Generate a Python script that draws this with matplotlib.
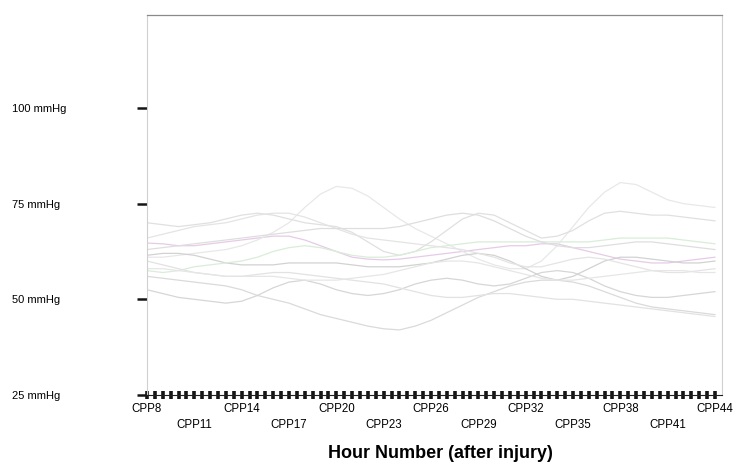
import matplotlib
matplotlib.use("Agg")
import matplotlib.pyplot as plt
import numpy as np

plt.rcParams['font.family'] = ['Liberation Sans', 'DejaVu Sans']

hours = list(range(8, 45))
tick_hours = list(range(8, 45, 3))
tick_labels = ["CPP%d" % h for h in tick_hours]
y_ticks = [25, 50, 75, 100]
y_labels = ["25 mmHg", "50 mmHg", "75 mmHg", "100 mmHg"]

s1 = [64.7, 64.5, 64, 64, 64.5, 65, 65.5, 66, 66.5, 66.5, 65.5, 64, 62.5, 61, 60.5, 60.3, 60.5, 61, 61.5,
      62, 62.5, 63, 63.5, 64, 64, 64.5, 64.5, 63.5, 62.5, 61.5, 60.5, 60, 59.5, 59.5, 60, 60.5, 61]
s2 = [61, 61, 61.5, 62, 62.5, 63, 64, 65.5, 67.5, 70, 74, 77.5, 79.5, 79, 77, 74, 71, 68.5, 66.5,
      64.5, 62.5, 60.5, 59, 58, 58, 60, 64, 69, 74, 78, 80.5, 80, 78, 76, 75, 74.5, 74]
s3 = [70, 69.5, 69, 69.5, 70, 71, 72, 72.5, 72, 71, 70, 69.5, 69, 67.5, 65, 62.5, 61.5, 62.5, 65,
      68, 71, 72.5, 72, 70, 68, 66, 66.5, 68, 70.5, 72.5, 73, 72.5, 72, 72, 71.5, 71, 70.5]
s4 = [56, 55.5, 55, 54.5, 54, 53.5, 52.5, 51, 50, 49, 47.5, 46, 45, 44, 43, 42.3, 42, 43, 44.5,
      46.5, 48.5, 50.5, 52, 53.5, 54.5, 55, 55, 54.5, 53.5, 52, 50.5, 49, 48, 47.5, 47, 46.5, 46]
s5 = [52.5, 51.5, 50.5, 50, 49.5, 49, 49.5, 51, 53, 54.5, 55, 54, 52.5, 51.5, 51, 51.5, 52.5, 54, 55,
      55.5, 55, 54, 53.5, 54, 55.5, 57, 57.5, 57, 55.5, 53.5, 52, 51, 50.5, 50.5, 51, 51.5, 52]
s6 = [61.5, 62, 62, 61.5, 60.5, 59.5, 59, 59, 59, 59.5, 59.5, 59.5, 59.5, 59, 58.5, 58.5, 58.5, 59, 59.5,
      60.5, 61.5, 62, 61.5, 60, 58, 56, 55, 56, 58, 60, 61, 61, 60.5, 60, 59.5, 59.5, 60]
s7 = [57.5, 57, 57.5, 58.5, 59, 59.5, 60, 61, 62.5, 63.5, 64, 63.5, 62.5, 61.5, 61, 61, 61.5, 62.5, 63.5,
      64, 64.5, 65, 65, 65, 65, 65, 65, 65, 65, 65.5, 66, 66, 66, 66, 65.5, 65, 64.5]
s8 = [66, 67, 68, 69, 69.5, 70, 71, 72, 72.5, 72.5, 71.5, 70, 68.5, 67, 66, 65.5, 65, 64.5, 64,
      63.5, 63, 62, 61, 59.5, 58.5, 58.5, 59.5, 60.5, 61, 60.5, 59.5, 58.5, 57.5, 57, 57, 57.5, 58]
s9 = [63, 63.5, 64, 64.5, 65, 65.5, 66, 66.5, 67, 67.5, 68, 68.5, 68.5, 68.5, 68.5, 68.5, 69, 70, 71,
      72, 72.5, 72, 70.5, 68.5, 66.5, 65, 64, 63.5, 63.5, 64, 64.5, 65, 65, 64.5, 64, 63.5, 63]
s10 = [60, 59, 58, 57, 56.5, 56, 56, 56.5, 57, 57, 56.5, 56, 55.5, 55, 54.5, 54, 53, 52, 51,
       50.5, 50.5, 51, 51.5, 51.5, 51, 50.5, 50, 50, 49.5, 49, 48.5, 48, 47.5, 47, 46.5, 46, 45.5]
s11 = [58, 58, 57.5, 57, 56.5, 56, 56, 56, 56, 55.5, 55, 55, 55, 55.5, 56, 56.5, 57.5, 58.5, 59.5,
       60, 60, 59.5, 58.5, 57.5, 56.5, 55.5, 55, 55, 55.5, 56, 56.5, 57, 57.5, 57.5, 57.5, 57, 57]

series = [s1, s2, s3, s4, s5, s6, s7, s8, s9, s10, s11]
colors = ['#e6cbe8', '#e8e8e8', '#e0e0e0', '#dadada', '#d6d6d6', '#d2d2d2',
          '#d9edd9', '#e4e4e4', '#dedede', '#e2e2e2', '#e6e6e6']

fig = plt.figure(figsize=(7.43, 4.66), dpi=100)
ax = fig.add_axes([0.1978, 0.1524, 0.774, 0.8155])

for s, c in zip(series, colors):
    ax.plot(hours, s, color=c, lw=0.9)

ax.set_xlim(8, 44.45)
ax.set_ylim(25, 124.3)

for side in ['left', 'right']:
    ax.spines[side].set_color('#d0d0d0')
    ax.spines[side].set_linewidth(0.8)
ax.spines['top'].set_color('#8a8a8a')
ax.spines['top'].set_linewidth(0.9)
ax.spines['bottom'].set_color('#202020')
ax.spines['bottom'].set_linewidth(0.8)

ax.set_xticks(hours)
ax.set_xticklabels(["CPP%d" % h if h in tick_hours else "" for h in hours])
ax.set_xticks([h + 0.5 for h in hours[:-1]], minor=True)
ax.tick_params(axis='x', which='both', direction='inout', length=6, width=2.6,
               color='#151515', labelsize=8.3)
for i, tick in enumerate(ax.xaxis.get_major_ticks()):
    h = hours[i]
    if h in tick_hours and tick_hours.index(h) % 2 == 1:
        tick.set_pad(14)
    else:
        tick.set_pad(3)

ax.set_yticks(y_ticks)
ax.set_yticklabels(y_labels)
ax.tick_params(axis='y', direction='out', length=7.5, width=1.8, color='#151515', pad=-7.5,
               labelsize=8)
for lab in ax.get_yticklabels():
    lab.set_horizontalalignment('left')
    lab.set_x(-0.235)

ax.set_xlabel("Hour Number (after injury)", fontsize=13, fontweight='bold')
ax.xaxis.set_label_coords(0.51, -0.132)

fig.savefig("out.png", dpi=100, facecolor='white')
